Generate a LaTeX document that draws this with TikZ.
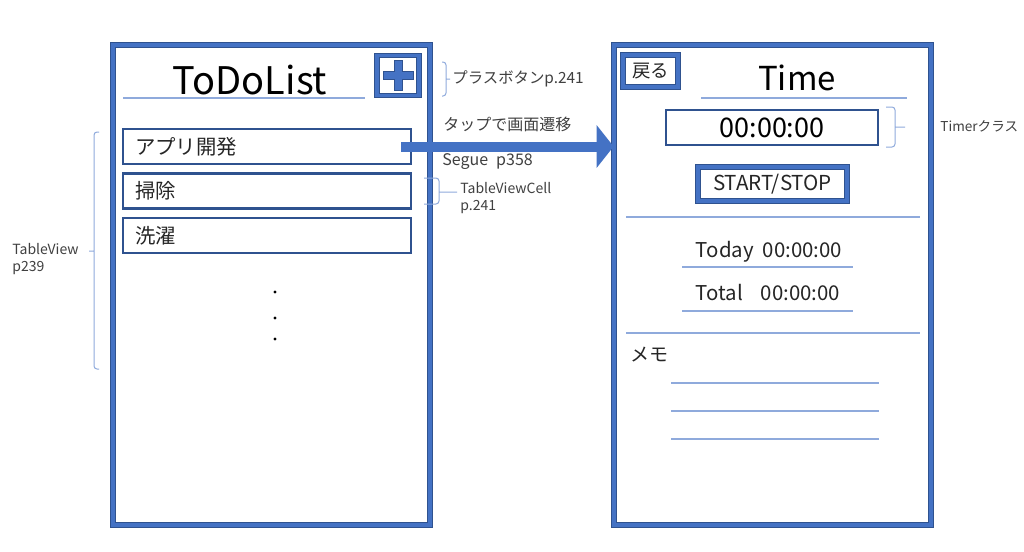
\documentclass[tikz,border=0pt]{standalone}
\usepackage{fontspec}
\setmainfont{Noto Sans CJK JP}
\usetikzlibrary{positioning,arrows.meta}
\definecolor{frameBlue}{HTML}{4472C4}
\definecolor{edgeBlue}{HTML}{2F528F}
\definecolor{paleBlue}{HTML}{8FAADC}
\definecolor{noteGray}{HTML}{404040}

\begin{document}
\begin{tikzpicture}[x=0.5pt,y=-0.5pt]
  \fill[white] (0,0) rectangle (1024,552);
  \useasboundingbox (0,0) rectangle (1024,552);
  \tikzset{
    screenFrame/.style={rectangle,draw=edgeBlue,double=frameBlue,double distance=2.2pt,
      line width=.4pt,minimum width=158.5pt,minimum height=240pt,inner sep=0pt},
    thickButton/.style={rectangle,draw=edgeBlue,double=frameBlue,double distance=1.8pt,
      line width=.4pt,inner sep=0pt,text=black!85},
    listCell/.style={rectangle,draw=edgeBlue,line width=1.2pt,minimum width=144pt,
      minimum height=17.5pt,inner xsep=5pt,inner ysep=1pt,text width=132pt,align=left,
      font=\fontsize{10.2}{12}\selectfont,text=black!85},
    timerBox/.style={rectangle,draw=edgeBlue,line width=1.2pt,minimum width=106pt,
      minimum height=17.5pt,inner sep=0pt,font=\fontsize{13.5}{16}\selectfont},
    % line styles
    guideLine/.style={draw=paleBlue,line width=.6pt},
    noteBrace/.style={draw=paleBlue,line width=.5pt,rounded corners=1.5pt},
    segueArrow/.style={draw=frameBlue,line width=5pt,-{Triangle[length=8.5pt,width=21pt]}},
    % label styles
    noteLabel/.style={anchor=west,inner sep=0pt,text=noteGray,align=left},
    screenTitle/.style={inner sep=0pt,text=black}
  }

  %%% ToDoList screen

  \node[screenFrame] (todoScreen) at (271.5,285) {};
  \node[screenTitle,font=\fontsize{19}{23}\selectfont] (todoTitle) at (250,80) {ToDoList};
  \draw[guideLine] (123,98) -- (365,98);

  \node[thickButton,minimum width=21pt,minimum height=20pt] (plusBtn) at (398,75.5) {};
  \begin{scope}[shift={(plusBtn.center)}]
    \draw[edgeBlue,fill=frameBlue,line width=.4pt] (-15,-4) -- (-4,-4) -- (-4,-15) -- (4,-15)
      -- (4,-4) -- (15,-4) -- (15,4) -- (4,4) -- (4,15) -- (-4,15) -- (-4,4) -- (-15,4) -- cycle;
  \end{scope}

  \node[listCell] (cellDev) at (267,146.5) {アプリ開発};
  \node[listCell] (cellClean) [below=3.5pt of cellDev] {掃除};
  \node[listCell] (cellWash) [below=3.5pt of cellClean] {洗濯};

  \foreach \y in {292,318,339}
    \fill (275,\y) circle (1.6);

  %%% Timer screen

  \node[screenFrame] (timeScreen) at (772.5,285) {};
  \node[thickButton,minimum width=27.5pt,minimum height=16pt,
    font=\fontsize{9.2}{11}\selectfont] (backBtn) at (650.5,71) {戻る};
  \node[screenTitle,font=\fontsize{16.5}{20}\selectfont] (timeTitle) at (797,78) {Time};
  \draw[guideLine] (701,98) -- (907,98);

  \node[timerBox] (timerDisp) at (772,127.5) {00:00:00};
  \node[thickButton,minimum width=74.5pt,minimum height=17pt,
    font=\fontsize{10.3}{12}\selectfont] (startBtn) at (772.5,184) {START/STOP};
  \draw[guideLine] (626,217) -- (920,217);

  \node[screenTitle,font=\fontsize{10.2}{12}\selectfont,text=black!85] (todayTime) at (769,252)
    {Today\hspace{4.5pt}00:00:00};
  \draw[guideLine] (682,267) -- (853,267);
  \node[screenTitle,font=\fontsize{10.2}{12}\selectfont,text=black!85] (totalTime) at (768,293)
    {Total\hspace{9pt}00:00:00};
  \draw[guideLine] (682,311) -- (853,311);
  \draw[guideLine] (626,333) -- (920,333);

  \node[noteLabel,text=black!85,font=\fontsize{9.5}{11}\selectfont] (memoLabel) at (630,355) {メモ};
  \foreach \y in {383,411,439}
    \draw[guideLine] (671,\y) -- (879,\y);

  %%% Transition

  \draw[segueArrow] ([xshift=-5.5pt]cellDev.east) -- (timeScreen.west |- cellDev.east);
  \node[noteLabel,font=\fontsize{8}{10}\selectfont] (tapNote) at (443,124) {タップで画面遷移};
  \node[noteLabel,font=\fontsize{8}{10}\selectfont] (segueNote) at (442,162) {Segue\hspace{4pt}p358};

  % Notes with braces
  \draw[noteBrace] (442,62) -- (446,62) -- (446,96) -- (442,96) (446,79) -- (450,79);
  \node[noteLabel,font=\fontsize{7.7}{9}\selectfont] (plusNote) at (452,79) {プラスボタンp.241};

  \draw[noteBrace] (424,178) -- (439,178) -- (439,204) -- (424,204) (439,192) -- (457,192);
  \node[noteLabel,font=\fontsize{7}{8.5}\selectfont] (cellNote) at (460,198.5) {TableViewCell\\p.241};

  \draw[noteBrace] (886,107) -- (895,107) -- (895,147) -- (886,147) (895,127) -- (905,127);
  \node[noteLabel,font=\fontsize{6.8}{8}\selectfont] (timerNote) at (940,126) {Timerクラス};

  \draw[noteBrace] (99,132) -- (94,132) -- (94,369) -- (99,369) (94,251) -- (89,251);
  \node[noteLabel,font=\fontsize{7}{8.5}\selectfont] (tableNote) at (12,259) {TableView\\p239};

\end{tikzpicture}
\end{document}
